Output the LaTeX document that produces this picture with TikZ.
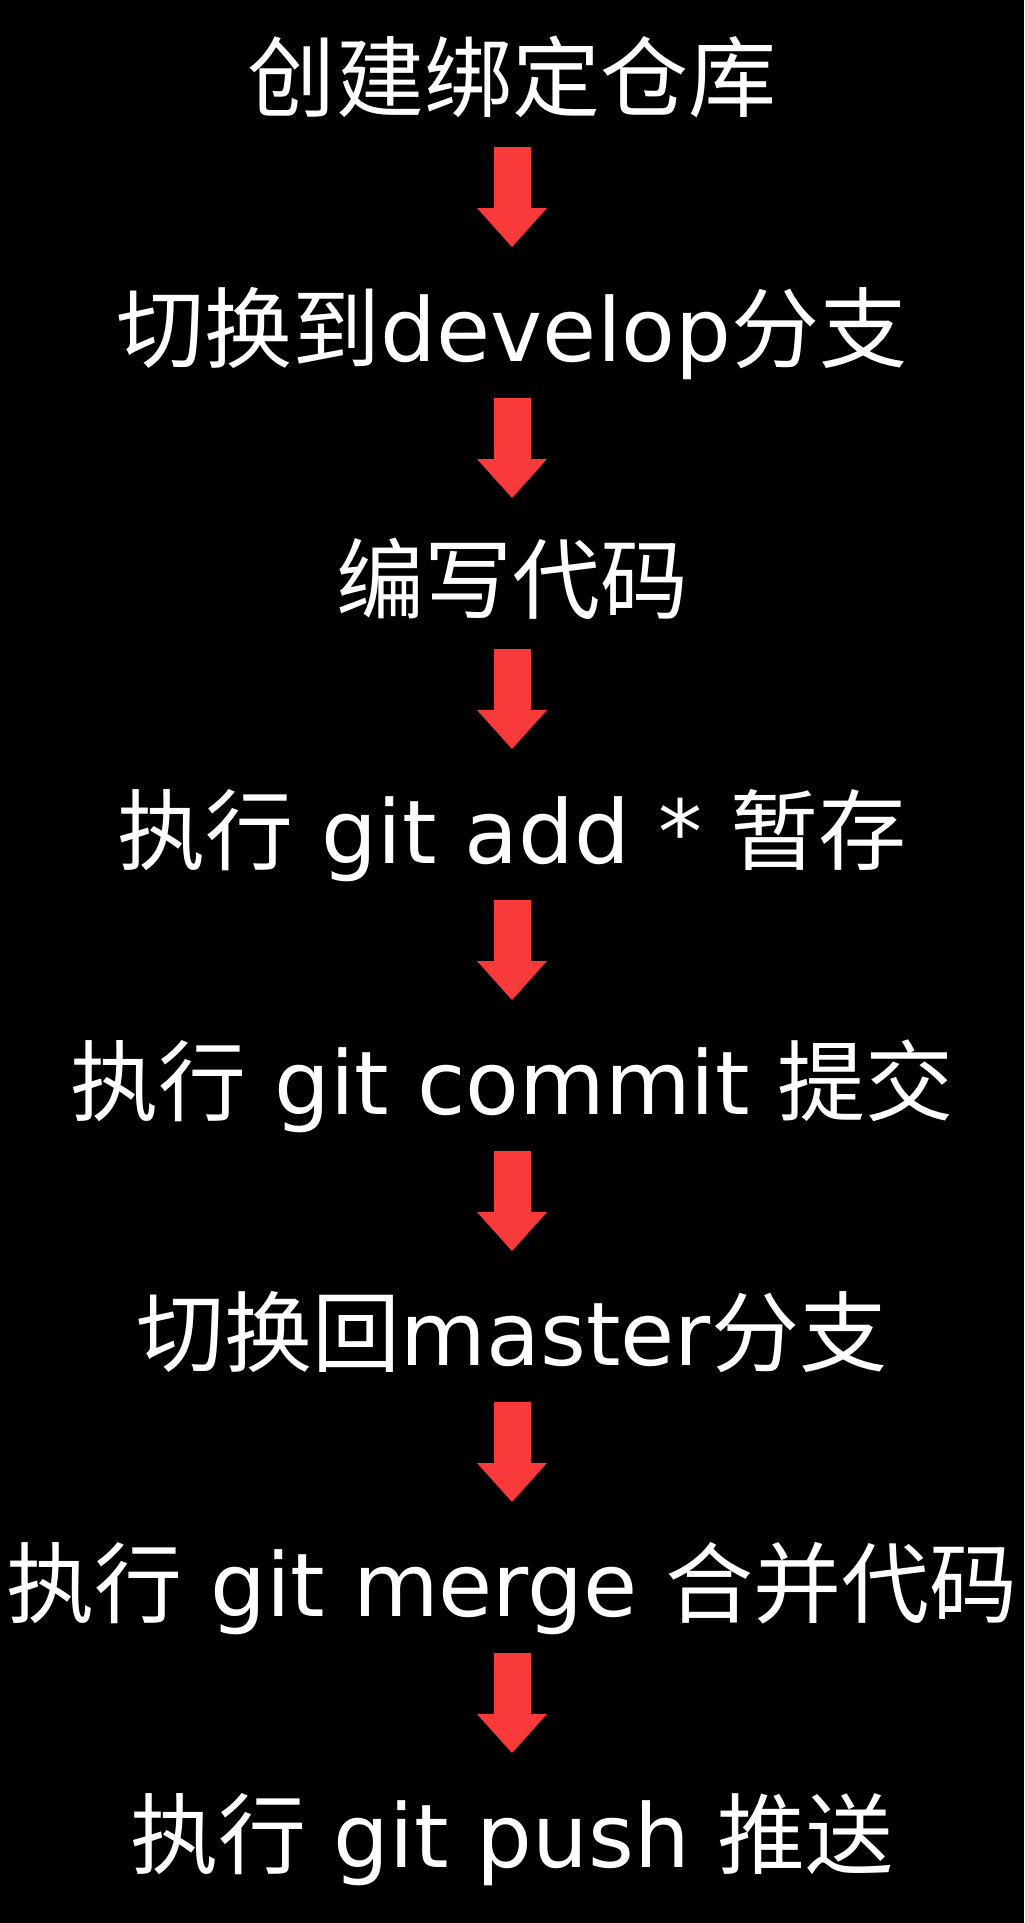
\documentclass[tikz,border=0pt]{standalone}
\usepackage{fontspec}
\setmainfont{DejaVu Sans}
\newfontfamily\cjk{Noto Sans CJK SC}
\usetikzlibrary{arrows.meta}
\definecolor{arrowred}{RGB}{248,58,58}
\tikzset{
  lbl/.style={text=white, anchor=base, inner sep=0pt, font=\fontsize{88bp}{100bp}\selectfont},
  flow/.style={draw=arrowred, fill=arrowred, line width=37bp,
    -{Triangle[width=70bp,length=39bp,line width=0pt]},
    shorten <=37bp, shorten >=114bp}
}
\begin{document}
\begin{tikzpicture}[x=1bp,y=1bp]
\fill[black] (0,0) rectangle (1024,-1923);
\useasboundingbox (0,0) rectangle (1024,-1923);
\node[lbl] (n1) at (512,-110) {{\cjk 创建绑定仓库}};
\node[lbl] (n2) at (512,-361) {{\cjk 切换到}develop{\cjk 分支}};
\node[lbl] (n3) at (512,-612) {{\cjk 编写代码}};
\node[lbl] (n4) at (512,-863) {{\cjk 执行} git add * {\cjk 暂存}};
\node[lbl] (n5) at (512,-1114) {{\cjk 执行} git commit {\cjk 提交}};
\node[lbl] (n6) at (512,-1365) {{\cjk 切换回}master{\cjk 分支}};
\node[lbl] (n7) at (512,-1616) {{\cjk 执行} git merge {\cjk 合并代码}};
\node[lbl] (n8) at (512,-1867) {{\cjk 执行} git push {\cjk 推送}};
\draw[flow] (n1.base) -- (n2.base);
\draw[flow] (n2.base) -- (n3.base);
\draw[flow] (n3.base) -- (n4.base);
\draw[flow] (n4.base) -- (n5.base);
\draw[flow] (n5.base) -- (n6.base);
\draw[flow] (n6.base) -- (n7.base);
\draw[flow] (n7.base) -- (n8.base);
\end{tikzpicture}
\end{document}
